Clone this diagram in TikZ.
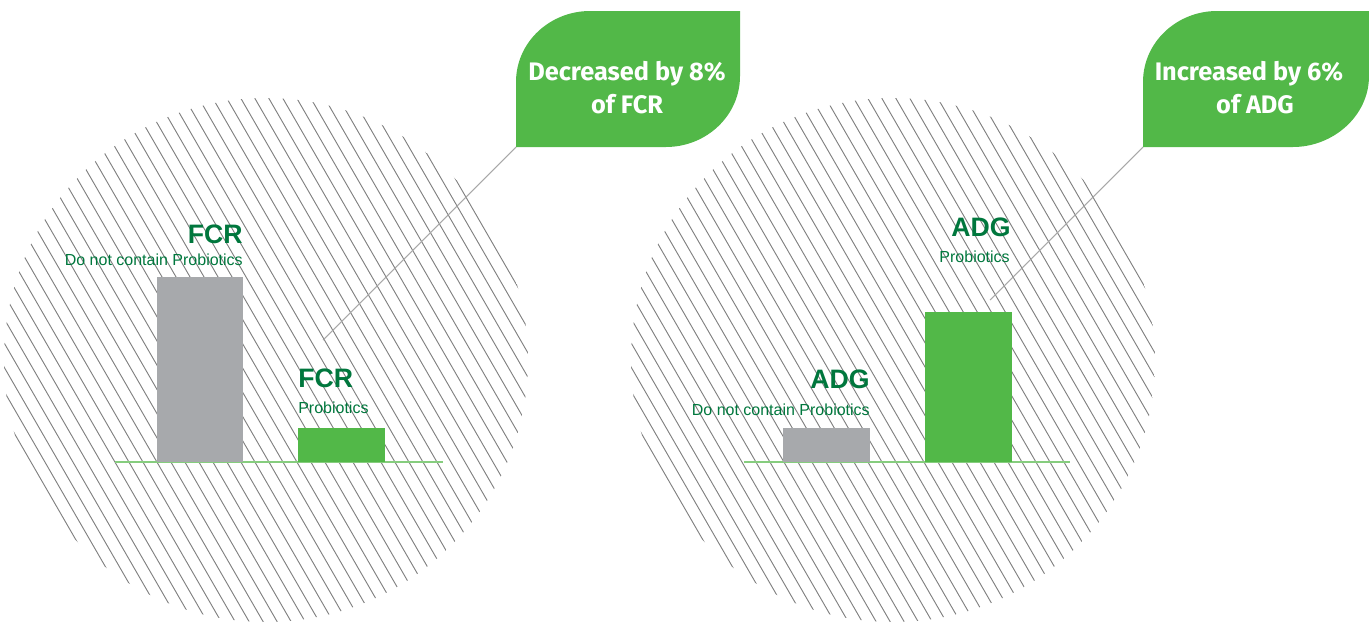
\documentclass[tikz,border=0pt]{standalone}
\usepackage{fontspec}
\setmainfont{Liberation Sans}
\newfontfamily\callfont{Fira Sans}
\definecolor{leafgreen}{HTML}{52B848}
\definecolor{txtgreen}{HTML}{00773D}
\definecolor{bargray}{HTML}{A7A9AC}
\definecolor{hatchgray}{HTML}{808080}
\definecolor{basegreen}{HTML}{86CD7E}
\definecolor{leadgray}{HTML}{A8A8A8}
\tikzset{
  hatchline/.style={draw=hatchgray, line width=0.7pt},
  bigtxt/.style={font=\fontsize{20}{24}\selectfont\bfseries, text=txtgreen, inner sep=0pt},
  smalltxt/.style={font=\fontsize{12}{14}\selectfont, text=txtgreen, inner sep=0pt},
  calltxt/.style={font=\callfont\bfseries\fontsize{19}{24}\selectfont, text=white, inner sep=0pt},
  leafshape/.style={fill=leafgreen},
  graybar/.style={fill=bargray},
  greenbar/.style={fill=leafgreen},
  baseln/.style={draw=basegreen, line width=1.5pt},
  leader/.style={draw=leadgray, line width=0.8pt}
}
\begin{document}
\begin{tikzpicture}[x=0.75pt,y=-0.75pt]
\useasboundingbox (0,0) rectangle (1369,625);

% hatched circles
\begin{scope}
  \clip (266,360) circle [radius=262];
  \foreach \i in {-45,...,45}
    \draw[hatchline] ({266+14*\i-320},{360-554}) -- ({266+14*\i+320},{360+554});
\end{scope}
\begin{scope}
  \clip (893,360) circle [radius=262];
  \foreach \i in {-45,...,45}
    \draw[hatchline] ({893+14*\i-320},{360-554}) -- ({893+14*\i+320},{360+554});
\end{scope}

% left chart
\coordinate (lb1) at (115,462);
\coordinate (lb2) at (443,462);
\draw[baseln] (lb1) -- (lb2);
\fill[graybar] (157,277) rectangle (243,462);
\fill[greenbar] (298,428) rectangle (385,462);
\node[bigtxt, anchor=base east] (fcrA) at (243,243) {FCR};
\node[smalltxt, anchor=base east] (fcrAsub) at (243,265) {Do not contain Probiotics};
\node[bigtxt, anchor=base west] (fcrB) at (298,387) {FCR};
\node[smalltxt, anchor=base west] (fcrBsub) at (298,413) {Probiotics};

% right chart
\coordinate (rb1) at (744,462);
\coordinate (rb2) at (1070,462);
\draw[baseln] (rb1) -- (rb2);
\fill[graybar] (783,428) rectangle (870,462);
\fill[greenbar] (925,312) rectangle (1012,462);
\node[bigtxt, anchor=base east] (adgA) at (870,388) {ADG};
\node[smalltxt, anchor=base east] (adgAsub) at (870,415) {Do not contain Probiotics};
\node[bigtxt, anchor=base east] (adgB) at (1011,236) {ADG};
\node[smalltxt, anchor=base east] (adgBsub) at (1010,262) {Probiotics};

% callouts
\coordinate (leafL) at (516,147);
\coordinate (endL) at (323,340);
\coordinate (leafR) at (1143,147);
\coordinate (endR) at (990,300);
\draw[leader] (leafL) -- (endL);
\draw[leader] (leafR) -- (endR);

\fill[leafshape] (516,147) -- (516,82) .. controls (516,42) and (550,11) .. (590,11)
  -- (740,11) -- (740,76) .. controls (740,116) and (706,147) .. (666,147) -- cycle;
\fill[leafshape] (1143,147) -- (1143,82) .. controls (1143,42) and (1177,11) .. (1217,11)
  -- (1369,11) -- (1369,76) .. controls (1369,116) and (1333,147) .. (1293,147) -- cycle;

\node[calltxt, anchor=base] (cl1) at (627,80) {Decreased by 8\%};
\node[calltxt, anchor=base] (cl2) at (627,113) {of FCR};
\node[calltxt, anchor=base] (cr1) at (1249,80) {Increased by 6\%};
\node[calltxt, anchor=base] (cr2) at (1255,113) {of ADG};
\end{tikzpicture}
\end{document}
